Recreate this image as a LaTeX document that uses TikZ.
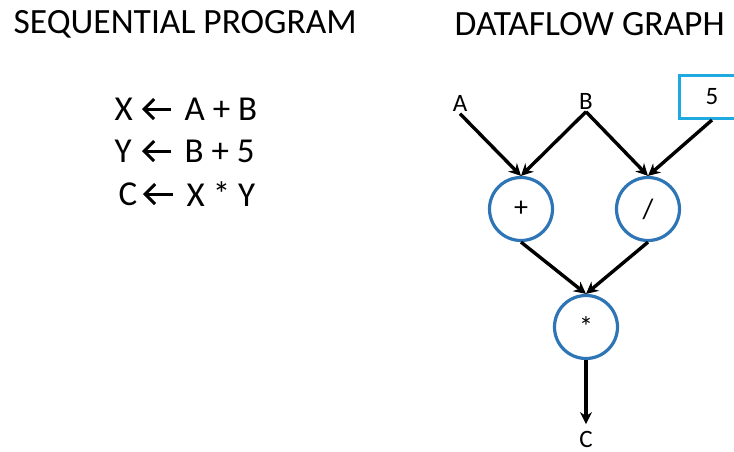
\documentclass[tikz,border=0pt]{standalone}
\usepackage{fontspec}
\setmainfont{Carlito}
\usetikzlibrary{positioning,arrows.meta}

\definecolor{opblue}{RGB}{46,117,182}
\definecolor{constblue}{RGB}{30,170,225}

\begin{document}
\begin{tikzpicture}
	[x=1pt,y=-1pt,>={Stealth[length=12pt,width=12pt]},line width=3.4pt,node distance=127pt,on grid,
	 op/.style={circle,draw=opblue,line width=3.2pt,minimum size=63pt,inner sep=0pt,font=\fontsize{28}{30}\selectfont},
	 lbl/.style={font=\fontsize{25}{28}\selectfont,inner sep=1pt},
	 title/.style={font=\fontsize{35.5}{40}\selectfont,anchor=west,inner sep=0pt},
	 eq/.style={font=\fontsize{35}{40}\selectfont,anchor=west,inner sep=0pt},
	 gets/.style={-{Straight Barb[length=10pt,width=20pt,line width=3pt]},line width=3pt,shorten <=12pt}]
\useasboundingbox (0,0) rectangle (734,451);

% left side
\node[title](seq) at (12,24){SEQUENTIAL PROGRAM};
\node[eq](x) at (113,109){X};
\node[eq](ab) at (183,109){A + B};
\node[eq](y) at (113,151){Y};
\node[eq](b5) at (183,151){B + 5};
\node[eq](c) at (117,194){C};
\node[eq](xy) at (185,194){X * Y};
\draw[gets] (ab.west) -- (142,109);
\draw[gets] (b5.west) -- (142,151);
\draw[gets] (xy.west) -- (143,194);

% right side
\node[title](dfg) at (453,24){DATAFLOW GRAPH};
\node[lbl](A) at (460,103){A};
\node[lbl](B) at (586,101){B};
\node[lbl,draw=constblue,line width=3pt,minimum width=66pt,minimum height=43pt](five) at (712,97){5};
\node[op](plus) at (521,209){+};
\node[op](div)[right = of plus]{/};
\node[op](mul) at (586,327){*};
\node[lbl](C) at (586,439){C};

\path[->]
	(A.south)    edge (plus.north)
	(B.south)    edge (plus.north)
	(B.south)    edge (div.north)
	(five.south) edge (div.north)
	(plus.south) edge (mul.north)
	(div.south)  edge (mul.north)
	(mul)        edge[shorten >=4pt] (C);

\end{tikzpicture}
\end{document}
